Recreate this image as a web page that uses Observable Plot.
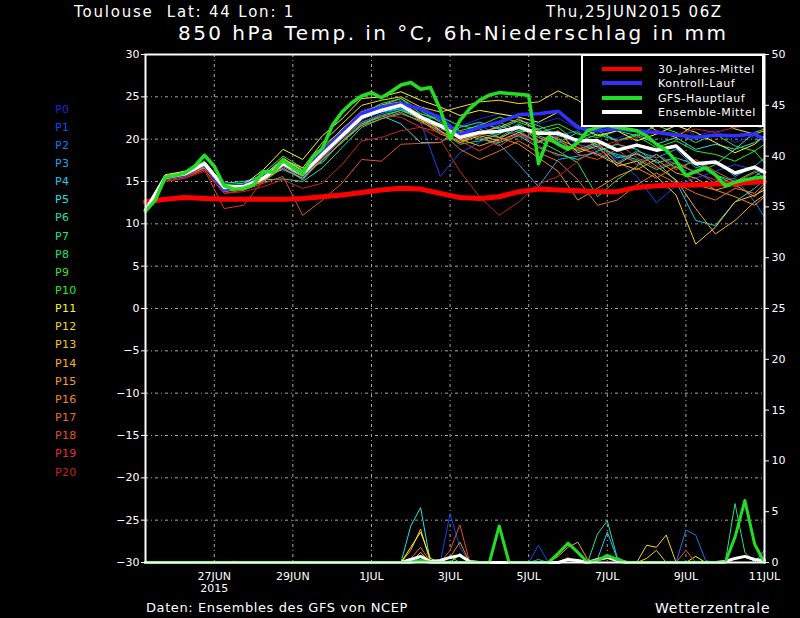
<!DOCTYPE html>
<html><head><meta charset="utf-8">
<script src="https://cdn.jsdelivr.net/npm/d3@7"></script>
<script src="https://cdn.jsdelivr.net/npm/@observablehq/plot@0.6"></script>
<style>
body{margin:0;background:#000;}
#wrap{position:relative;width:800px;height:618px;overflow:hidden;background:#000;font-family:"DejaVu Sans",sans-serif;color:#fff;}
#wrap svg{position:absolute;left:0;top:0;display:block;}
.t{position:absolute;white-space:pre;line-height:1;}
.bar{position:absolute;height:4px;width:40px;}
</style></head><body><div id="wrap"></div>
<script>
// ---------- data ----------
const headerLeft = "Toulouse  Lat: 44 Lon: 1";
const headerRight = "Thu,25JUN2015 06Z";
const title = "850 hPa Temp. in °C, 6h-Niederschlag in mm";
const footerLeft = "Daten: Ensembles des GFS von NCEP";
const footerRight = "Wetterzentrale";
const legendLabels = ["30-Jahres-Mittel", "Kontroll-Lauf", "GFS-Hauptlauf", "Ensemble-Mittel"];
const legendColors = ["#ff0000", "#3030ff", "#22dd22", "#ffffff"];

const startUTC = Date.UTC(2015, 5, 25, 6); // 25JUN2015 06Z
const hours12 = [0,12,24,36,48,60,72,84,96,108,120,132,144,156,168,180,192,204,216,228,240,252,264,276,288,300,312,324,336,348,360,372,378];
const hours6 = [0,6,12,18,24,30,36,42,48,54,60,66,72,78,84,90,96,102,108,114,120,126,132,138,144,150,156,162,168,174,180,186,192,198,204,210,216,222,228,234,240,246,252,258,264,270,276,282,288,294,300,306,312,318,324,330,336,342,348,354,360,366,372,378];

const memberNames = ["P0","P1","P2","P3","P4","P5","P6","P7","P8","P9","P10","P11","P12","P13","P14","P15","P16","P17","P18","P19","P20"];
const memberColors = ["#2424dc","#1048f4","#1878f0","#20a0f0","#20c8f0","#20e0e0","#20e0a8","#20e088","#20e060","#30e040","#20f020","#f8f820","#f8d820","#f8c820","#f8b020","#f8a020","#f08820","#e87020","#e05028","#e03030","#c82020"];

const p00 = [11.7,15.4,15.8,17.0,14.2,14.8,15.6,17.4,16.2,18.6,21.0,23.4,24.0,24.6,23.2,22.8,21.5,22.4,23.0,22.6,21.8,22.5,21.2,20.6,20.0,21.2,20.6,21.8,20.4,21.0,19.6,20.4,19.8];
const p01 = [11.6,15.3,15.9,16.8,14.0,14.6,15.2,16.6,15.4,17.8,20.0,22.2,23.6,24.2,22.0,15.6,18.4,19.6,21.2,20.4,19.8,20.6,19.4,18.8,17.6,15.6,12.5,14.5,15.4,16.2,17.0,16.4,15.8];
const p02 = [11.6,15.2,15.7,16.9,14.4,14.2,15.0,16.8,15.6,17.6,20.2,22.0,23.0,23.6,22.8,21.2,20.6,21.8,20.2,21.0,19.6,20.4,21.0,19.2,18.0,17.4,18.2,17.0,16.2,14.8,15.4,12.6,10.8];
const p03 = [11.5,15.5,16.1,17.2,14.6,14.0,15.2,17.0,15.2,18.0,20.6,22.8,23.2,23.8,23.0,22.2,21.0,20.2,19.4,17.0,14.4,17.6,18.0,18.4,17.2,18.6,17.8,18.8,16.6,17.4,15.6,16.8,17.8];
const p04 = [11.6,15.6,16.0,17.0,14.4,14.6,15.8,17.6,16.4,18.4,20.2,22.4,23.2,23.6,22.4,20.8,19.8,20.6,21.6,20.8,21.2,19.8,18.6,19.4,17.8,18.2,17.4,15.0,10.4,9.8,12.6,14.2,15.2];
const p05 = [11.6,15.6,16.2,17.0,14.8,15.0,15.6,16.4,15.4,17.6,19.6,21.8,22.8,21.8,19.6,19.6,21.4,22.0,21.2,22.2,21.6,20.4,20.0,21.0,19.8,20.6,19.4,20.2,18.8,19.4,18.8,19.6,20.4];
const p06 = [11.6,15.4,15.8,16.6,14.4,14.0,15.2,15.3,15.0,16.6,19.0,21.4,22.4,23.0,22.2,21.8,20.8,20.0,19.6,20.4,19.0,18.2,17.6,18.6,19.4,18.8,17.2,17.8,17.0,15.8,14.6,15.6,16.4];
const p07 = [11.6,15.6,16.0,17.4,14.0,14.6,16.0,18.0,16.6,17.2,19.8,21.6,22.8,23.4,22.6,21.0,19.4,19.8,20.6,21.8,20.4,19.6,20.8,19.0,18.2,17.6,16.4,17.2,16.0,17.0,18.8,20.8,21.2];
const p08 = [11.6,15.3,15.6,16.8,14.6,14.4,15.4,17.0,15.8,17.4,19.8,21.8,22.6,23.4,22.4,22.6,21.6,21.2,20.2,21.6,19.8,18.6,17.2,13.2,15.2,16.8,18.2,16.6,17.4,15.8,15.0,16.2,15.4];
const p09 = [11.6,15.4,15.8,17.2,14.2,14.4,15.0,17.2,16.0,19.2,21.0,23.2,24.0,24.8,23.4,22.0,21.0,21.6,22.6,22.0,21.2,21.8,20.6,20.2,21.0,20.4,21.6,20.8,19.6,20.6,19.2,18.6,19.4];
const p10 = [11.6,15.6,16.2,17.4,14.6,14.8,15.8,17.4,16.4,18.4,20.8,23.0,24.2,24.8,23.0,22.4,20.6,21.4,22.0,21.0,20.8,21.4,19.6,20.6,19.8,20.4,19.0,19.8,18.6,18.2,17.4,18.6,17.2];
const p11 = [11.6,15.8,16.2,17.0,14.0,14.6,16.4,18.8,17.6,20.4,22.4,24.8,25.0,25.6,24.6,23.8,22.8,23.4,23.0,22.6,22.0,23.2,21.6,20.4,21.0,19.8,20.6,21.6,20.8,19.6,18.4,19.4,20.4];
const p12 = [11.6,15.6,16.0,17.2,14.6,14.4,15.4,17.6,16.6,19.6,21.8,24.0,24.6,25.0,23.8,23.2,23.8,24.4,24.6,24.2,24.4,25.7,24.6,23.0,21.6,22.4,21.0,20.2,21.8,22.4,21.2,20.6,21.0];
const p13 = [11.6,15.5,15.9,17.0,13.8,14.2,15.6,17.8,16.2,18.8,21.2,23.2,24.0,24.4,22.8,21.0,19.6,20.4,19.8,20.8,19.6,21.0,18.4,19.2,16.8,17.4,15.6,13.4,7.6,9.6,12.6,13.4,14.0];
const p14 = [11.6,15.4,15.8,16.8,14.4,14.2,15.0,16.8,15.6,18.2,20.6,22.6,23.4,24.2,22.4,21.6,20.6,20.8,21.4,22.4,21.0,20.0,19.0,18.2,17.0,18.4,16.8,15.2,11.8,8.8,10.4,12.6,13.4];
const p15 = [11.6,15.3,15.7,16.6,14.2,14.0,15.2,17.0,15.8,18.0,20.4,22.6,23.6,24.0,22.2,21.4,20.0,19.2,20.0,21.4,20.2,19.4,18.8,19.6,17.2,16.4,17.6,16.0,15.4,14.0,14.6,13.2,14.4];
const p16 = [11.6,15.2,15.6,16.8,13.8,14.6,15.6,17.2,16.0,18.4,20.2,22.4,23.8,24.4,22.2,20.6,19.8,20.6,20.2,19.4,17.8,16.2,12.8,14.2,15.6,16.6,15.4,16.8,14.6,14.0,13.2,12.2,13.2];
const p17 = [11.6,15.2,15.6,16.6,14.0,14.2,15.0,16.6,15.2,17.6,19.6,21.6,22.4,23.2,22.0,21.0,18.8,17.6,18.6,19.8,18.4,17.4,15.2,12.2,12.8,14.6,16.0,14.8,13.6,12.8,14.2,13.6,14.8];
const p18 = [11.6,15.0,15.4,16.4,13.6,14.0,14.8,15.6,11.0,12.8,14.8,17.6,17.4,19.4,19.5,19.6,21.0,20.2,19.2,20.6,19.8,20.2,18.2,17.6,18.8,17.0,18.2,16.4,17.6,16.2,15.0,16.0,16.6];
const p19 = [11.6,15.2,15.6,16.4,11.8,12.2,15.2,17.2,15.6,17.8,20.0,22.0,22.8,22.6,21.4,20.8,19.8,18.6,19.8,20.6,19.2,18.0,19.4,18.0,19.6,17.8,16.6,17.4,16.0,15.2,14.4,15.0,15.8];
const p20 = [11.6,15.0,15.4,16.2,13.6,13.8,14.4,15.2,14.2,14.8,17.0,19.8,20.2,21.0,21.4,20.0,16.2,13.2,11.0,12.6,14.7,15.6,17.4,19.0,19.8,20.2,21.0,20.6,21.2,20.8,21.4,21.6,21.2];
const members = [p00,p01,p02,p03,p04,p05,p06,p07,p08,p09,p10,p11,p12,p13,p14,p15,p16,p17,p18,p19,p20];

const climate30 = [12.6,12.9,13.1,13.0,12.9,12.9,12.9,12.9,13.0,13.2,13.4,13.7,14.0,14.2,14.1,13.6,13.1,13.0,13.2,13.8,14.1,14.0,13.9,13.8,13.8,14.3,14.5,14.6,14.6,14.7,14.8,14.9,15.0];
const control = [11.6,15.4,15.8,17.0,14.0,14.5,15.5,17.0,16.0,18.5,20.8,23.0,23.8,24.2,23.6,22.5,20.5,21.4,22.0,22.9,23.0,23.3,21.4,21.0,21.2,21.0,20.8,20.5,20.2,20.5,20.4,20.6,20.0];
const ensMean = [11.6,15.5,15.9,17.1,14.3,14.4,15.4,17.1,15.9,18.2,20.4,22.6,23.4,24.0,22.6,21.6,20.2,20.8,20.9,21.4,20.7,20.7,19.8,19.8,18.7,19.3,18.7,19.2,17.1,17.3,16.0,16.7,16.1];
const gfsMain = [11.5,12.8,15.5,15.7,16.0,16.8,18.1,16.8,14.5,14.1,14.2,14.6,16.2,16.1,17.5,16.6,15.9,17.9,18.9,21.6,23.2,24.3,25.1,25.5,24.9,25.6,26.4,26.7,25.9,26.1,23.5,20.0,22.2,23.6,24.6,25.2,25.5,25.4,25.3,25.2,17.1,20.2,19.4,18.8,19.6,21.0,21.4,21.6,21.4,21.2,21.0,20.4,19.4,18.7,17.4,15.7,16.2,16.6,15.8,14.5,14.9,15.2,15.4,15.5];

// 6h precipitation (mm): [series, hour offset, mm]
const precipPoints = [
 ["P20",48,0],["P20",54,0.15],["P20",60,0],
 ["P5",156,0],["P5",162,3.6],["P5",168,5.4],["P5",174,0],
 ["P14",156,0],["P14",162,1.2],["P14",168,3.3],["P14",174,0],
 ["P11",156,0],["P11",162,1.5],["P11",168,3.0],["P11",174,0.4],["P11",180,0],
 ["P17",156,0],["P17",162,0.4],["P17",168,1.5],["P17",174,0],
 ["P13",162,0],["P13",168,1.0],["P13",174,0],
 ["P6",162,0],["P6",168,0.5],["P6",174,0],
 ["P1",180,0],["P1",186,4.8],["P1",192,1.5],["P1",198,0],
 ["P18",180,0],["P18",186,1.2],["P18",192,3.7],["P18",198,0],
 ["P16",180,0],["P16",186,0.5],["P16",192,2.0],["P16",198,0],
 ["P12",186,0],["P12",192,0.8],["P12",198,0],
 ["P7",186,0],["P7",192,0.9],["P7",198,0],
 ["P9",180,0],["P9",186,0.6],["P9",192,0],
 ["P1",234,0],["P1",240,1.7],["P1",246,0],
 ["P3",234,0],["P3",240,0.3],["P3",246,0],
 ["P15",246,0],["P15",252,0.6],["P15",258,1.5],["P15",264,2.0],["P15",270,0.3],["P15",276,0],
 ["P19",252,0],["P19",258,0.5],["P19",264,0],
 ["P6",270,0],["P6",276,2.8],["P6",282,4.1],["P6",288,0.5],["P6",294,0],
 ["P4",270,0],["P4",276,0.3],["P4",282,3.0],["P4",288,0.4],["P4",294,0],
 ["P12",300,0],["P12",306,1.7],["P12",312,1.5],["P12",318,2.7],["P12",324,0],
 ["P13",300,0],["P13",306,0.4],["P13",312,1.2],["P13",318,0],
 ["P2",324,0],["P2",330,3.2],["P2",336,2.7],["P2",342,0.2],["P2",348,0],
 ["P18",324,0],["P18",330,1.2],["P18",336,0],
 ["P11",330,0],["P11",336,0.6],["P11",342,0],
 ["P7",354,0],["P7",360,5.8],["P7",366,1.0],["P7",372,0],
 ["P16",354,0],["P16",360,0.4],["P16",366,0.5],["P16",372,0.2],["P16",378,0],
 ["P3",372,0],["P3",378,1.2]
];
const precipGFS = [[0,0],[162,0],[168,0.2],[174,0],[210,0],[216,3.6],[222,0],[246,0],[252,0.9],[258,1.9],[264,1.0],[270,0],[276,0.2],[282,0.7],[288,0.3],[294,0],[354,0],[360,2.5],[366,6.1],[372,1.8],[378,0]];
const precipMean = [[0,0],[156,0],[162,0.3],[168,0.6],[174,0.1],[180,0.2],[186,0.5],[192,0.7],[198,0.1],[204,0],[252,0],[258,0.3],[264,0.2],[270,0],[276,0.3],[282,0.5],[288,0.2],[294,0],[348,0],[354,0.1],[360,0.4],[366,0.6],[372,0.3],[378,0.2]];

const tempTicks = [-30,-25,-20,-15,-10,-5,0,5,10,15,20,25,30];
const tempGrid = [-25,-20,-15,-10,-5,0,5,10,15,20,25];
const precipTicks = [0,5,10,15,20,25,30,35,40,45,50];
const dateTicks = ["2015-06-27","2015-06-29","2015-07-01","2015-07-03","2015-07-05","2015-07-07","2015-07-09","2015-07-11"];
const dateLabels = ["27JUN\n2015","29JUN","1JUL","3JUL","5JUL","7JUL","9JUL","11JUL"];

// ---------- build ----------
const T = h => new Date(startUTC + h * 3600000);
const P2T = mm => -30 + mm * 60 / 50; // precipitation mm -> left-axis position
const tickDates = dateTicks.map(s => new Date(s + "T00:00:00Z"));

const memberRows = members.flatMap((vals, m) => vals.map((v, i) => ({t: T(hours12[i]), v, m, c: memberColors[m]})));
const seriesRows = vals => vals.map((v, i) => ({t: T(hours12[i]), v}));
const gfsRows = gfsMain.map((v, i) => ({t: T(hours6[i]), v}));
const precipRows = precipPoints.map(([s, h, mm]) => ({s, t: T(h), v: P2T(mm), c: memberColors[memberNames.indexOf(s)]}));
const pRows = arr => arr.map(([h, mm]) => ({t: T(h), v: P2T(mm)}));

const gridStyle = {stroke: "#a8a8a8", strokeOpacity: 1, strokeWidth: 1, strokeDasharray: "3,3,1,3"};

const svg = Plot.plot({
  width: 800, height: 618,
  marginLeft: 145, marginRight: 36, marginTop: 54, marginBottom: 56,
  style: {background: "#000", color: "#fff", fontFamily: "DejaVu Sans, sans-serif", fontSize: "11px"},
  x: {type: "utc", domain: [T(0), T(378)], label: null},
  y: {domain: [-30, 30], label: null},
  color: {type: "identity"},
  marks: [
    Plot.gridY(tempGrid, gridStyle),
    Plot.gridX(tickDates, gridStyle),
    Plot.line(memberRows, {x: "t", y: "v", z: "m", stroke: "c", strokeWidth: 1}),
    Plot.line(precipRows, {x: "t", y: "v", z: "s", stroke: "c", strokeWidth: 1}),
    Plot.line(seriesRows(climate30), {x: "t", y: "v", stroke: "#ff0000", strokeWidth: 5}),
    Plot.line(seriesRows(control), {x: "t", y: "v", stroke: "#3030ff", strokeWidth: 3.5}),
    Plot.line(seriesRows(ensMean), {x: "t", y: "v", stroke: "#ffffff", strokeWidth: 3.5}),
    Plot.line(gfsRows, {x: "t", y: "v", stroke: "#22dd22", strokeWidth: 3.5}),
    Plot.line(pRows(precipMean), {x: "t", y: "v", stroke: "#ffffff", strokeWidth: 3}),
    Plot.line(pRows(precipGFS), {x: "t", y: "v", stroke: "#22dd22", strokeWidth: 3}),
    Plot.frame({stroke: "#fff", strokeWidth: 2}),
    Plot.axisY(tempTicks, {anchor: "left", tickSize: 4, tickPadding: 2, label: null}),
    Plot.axisY(precipTicks.map(P2T), {anchor: "right", tickSize: 4, tickPadding: 3, label: null,
      tickFormat: d => String(Math.round((d + 30) * 50 / 60))}),
    Plot.axisX(tickDates, {anchor: "bottom", tickSize: 0, tickPadding: 9, label: null, lineHeight: 1.1,
      tickFormat: d => dateLabels[tickDates.findIndex(t => +t === +d)]})
  ]
});
const wrap = document.getElementById("wrap");
wrap.append(svg);

// ---------- overlay texts ----------
function addText(txt, left, top, size, color, extra = "") {
  const d = document.createElement("div");
  d.className = "t";
  d.textContent = txt;
  d.style.cssText = `left:${left}px;top:${top}px;font-size:${size}px;color:${color};${extra}`;
  wrap.append(d);
  return d;
}
addText(headerLeft, 74, 5, 15, "#fff", "letter-spacing:1.8px;");
addText(headerRight, 546, 5, 15, "#fff", "letter-spacing:1.5px;");
addText(title, 178, 23, 20, "#fff", "letter-spacing:2.45px;");
memberNames.forEach((n, k) => addText(n, 55, 103.5 + k * 18.15, 11, memberColors[k], "letter-spacing:0.3px;"));
addText(footerLeft, 146, 601, 13, "#fff", "letter-spacing:0.6px;");
addText(footerRight, 655, 601, 14, "#fff", "letter-spacing:0.8px;");

// legend box
const box = document.createElement("div");
box.style.cssText = "position:absolute;left:581px;top:54px;width:183px;height:73px;box-sizing:border-box;background:#000;border:2px solid #fff;";
wrap.append(box);
const rowY = [69.3, 83.3, 98.3, 112.3];
legendLabels.forEach((lab, k) => {
  const b = document.createElement("div");
  b.className = "bar";
  b.style.cssText += `left:602px;top:${rowY[k] - 2}px;background:${legendColors[k]};`;
  wrap.append(b);
  addText(lab, 658, rowY[k] - 5.5, 11, "#fff", "letter-spacing:0.6px;");
});
</script></body></html>
